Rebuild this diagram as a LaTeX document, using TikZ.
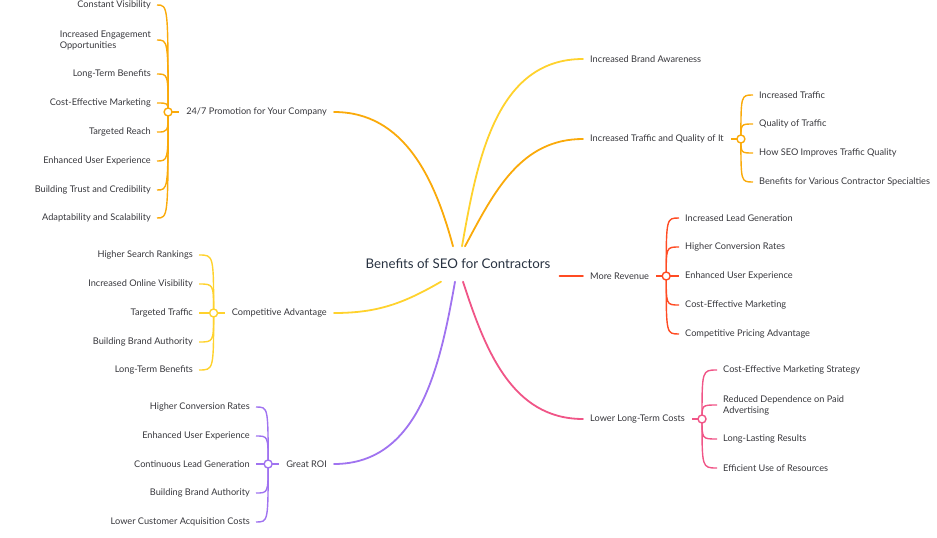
\documentclass[tikz,border=0pt]{standalone}
\usepackage{fontspec}
\setmainfont{Lato}
\usetikzlibrary{positioning, calc}

\definecolor{mmorange}{RGB}{250,170,10}
\definecolor{mmyellow}{RGB}{255,210,45}
\definecolor{mmpurple}{RGB}{160,115,240}
\definecolor{mmred}{RGB}{255,75,35}
\definecolor{mmpink}{RGB}{240,85,135}
\definecolor{leafgray}{RGB}{55,55,60}
\definecolor{rootgray}{RGB}{40,50,65}

\tikzset{
  root/.style={font=\fontsize{13.3}{16}\selectfont, text=rootgray, inner xsep=9pt, minimum height=35pt},
  branch/.style={font=\fontsize{9.2}{11}\selectfont, text=leafgray, inner xsep=7pt},
  leaf/.style={font=\fontsize{9.2}{11}\selectfont, text=leafgray, inner xsep=6pt, inner ysep=2pt, align=left},
  limb/.style={line width=1.8pt, line cap=round},
  twig/.style={line width=1.4pt},
  hubring/.style={line width=1.4pt, fill=white}
}

\begin{document}
\begin{tikzpicture}[x=1pt, y=-1pt]
  \useasboundingbox (0,0) rectangle (937,538);

  % Central topic
  \node[root] (root) at (458,264) {Benefits of SEO for Contractors};

  % Main branches
  \node[branch, anchor=east] (promo) at (334,112) {24/7 Promotion for Your Company};
  \node[branch, anchor=east] (compet) at (334,313) {Competitive Advantage};
  \node[branch, anchor=east] (roi) at (334,464) {Great ROI};
  \node[branch, anchor=west] (brand) at (583,59) {Increased Brand Awareness};
  \node[branch, anchor=west] (traffic) at (583,139) {Increased Traffic and Quality of It};
  \node[branch, anchor=west] (revenue) at (583,276) {More Revenue};
  \node[branch, anchor=west] (costs) at (583,419) {Lower Long-Term Costs};

  % Hubs in front of the sub-topics
  \coordinate[left=11pt of promo] (promohub);
  \coordinate[left=11pt of compet] (compethub);
  \coordinate[left=11pt of roi] (roihub);
  \coordinate[right=10pt of traffic] (traffichub);
  \coordinate[right=10pt of revenue] (revenuehub);
  \coordinate[right=10pt of costs] (costshub);

  % Root to branches
  \draw[limb, mmorange] ([xshift=-5pt]root.north) to[out=105, in=0] (promo.east);
  \draw[limb, mmyellow] ([xshift=4pt]root.north) to[out=80, in=180] (brand.west);
  \draw[limb, mmorange] ([xshift=7pt]root.north) to[out=62, in=180] (traffic.west);
  \draw[limb, mmyellow] ([xshift=-17pt]root.south) to[out=-150, in=0] (compet.east);
  \draw[limb, mmpurple] ([xshift=-3pt]root.south) to[out=-100, in=0] (roi.east);
  \draw[limb, mmpink] ([xshift=5pt]root.south) to[out=-72, in=180] (costs.west);
  \draw[limb, mmred] (root.east |- revenue.west) -- (revenue.west);

  % Left side leaves
  \def\promox{157}
  \foreach \txt/\y [count=\i] in {Constant Visibility/5, {Increased Engagement\\Opportunities}/40,
      Long-Term Benefits/74, Cost-Effective Marketing/103, Targeted Reach/132,
      Enhanced User Experience/161, Building Trust and Credibility/190, Adaptability and Scalability/218} {
    \node[leaf, anchor=east] (promo\i) at (\promox,\y) {\txt};
    \draw[twig, mmorange] (promohub) .. controls (promohub |- promo\i) and (promohub |- promo\i) .. (promo\i.east);
  }

  \def\competx{199}
  \foreach \txt/\y [count=\i] in {Higher Search Rankings/255, Increased Online Visibility/284,
      Targeted Traffic/313, Building Brand Authority/342, Long-Term Benefits/370} {
    \node[leaf, anchor=east] (compet\i) at (\competx,\y) {\txt};
    \draw[twig, mmyellow] (compethub) .. controls (compethub |- compet\i) and (compethub |- compet\i) .. (compet\i.east);
  }

  \def\roix{256}
  \foreach \txt/\y [count=\i] in {Higher Conversion Rates/407, Enhanced User Experience/436,
      Continuous Lead Generation/464, Building Brand Authority/493, Lower Customer Acquisition Costs/522} {
    \node[leaf, anchor=east] (roi\i) at (\roix,\y) {\txt};
    \draw[twig, mmpurple] (roihub) .. controls (roihub |- roi\i) and (roihub |- roi\i) .. (roi\i.east);
  }

  % Right side leaves
  \def\trafficx{753}
  \foreach \txt/\y [count=\i] in {Increased Traffic/95, Quality of Traffic/124,
      How SEO Improves Traffic Quality/153, Benefits for Various Contractor Specialties/182} {
    \node[leaf, anchor=west] (traffic\i) at (\trafficx,\y) {\txt};
    \draw[twig, mmorange] (traffichub) .. controls (traffichub |- traffic\i) and (traffichub |- traffic\i) .. (traffic\i.west);
  }

  \def\revenuex{679}
  \foreach \txt/\y [count=\i] in {Increased Lead Generation/218, Higher Conversion Rates/247,
      Enhanced User Experience/276, Cost-Effective Marketing/305, Competitive Pricing Advantage/334} {
    \node[leaf, anchor=west] (revenue\i) at (\revenuex,\y) {\txt};
    \draw[twig, mmred] (revenuehub) .. controls (revenuehub |- revenue\i) and (revenuehub |- revenue\i) .. (revenue\i.west);
  }

  \def\costsx{717}
  \foreach \txt/\y [count=\i] in {Cost-Effective Marketing Strategy/370, {Reduced Dependence on Paid\\Advertising}/405,
      Long-Lasting Results/439, Efficient Use of Resources/468} {
    \node[leaf, anchor=west] (costs\i) at (\costsx,\y) {\txt};
    \draw[twig, mmpink] (costshub) .. controls (costshub |- costs\i) and (costshub |- costs\i) .. (costs\i.west);
  }

  % Hub stems and rings
  \foreach \h/\b/\c in {promohub/promo/mmorange, compethub/compet/mmyellow, roihub/roi/mmpurple,
      traffichub/traffic/mmorange, revenuehub/revenue/mmred, costshub/costs/mmpink} {
    \draw[twig, \c] (\h) -- (\b);
    \draw[hubring, draw=\c] (\h) circle (4pt);
  }
\end{tikzpicture}
\end{document}
